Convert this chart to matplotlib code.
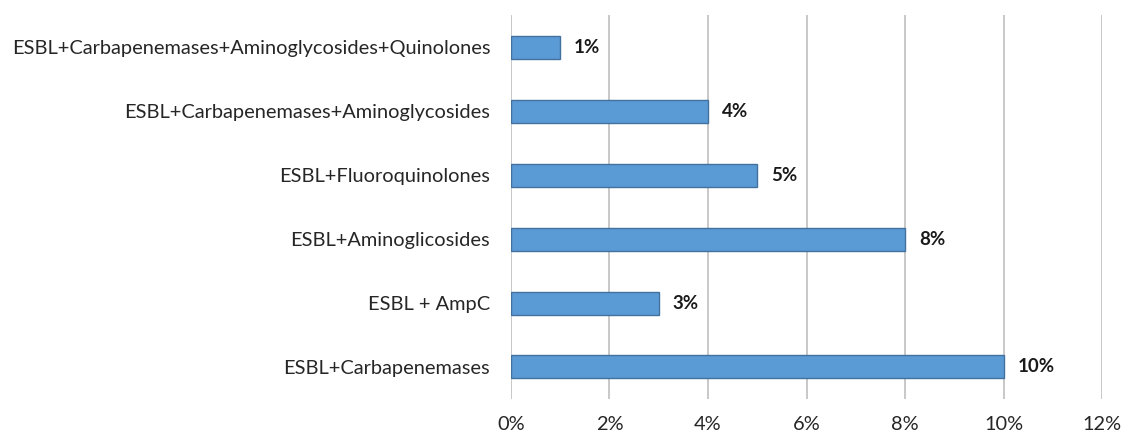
import matplotlib.pyplot as plt
from matplotlib.ticker import FuncFormatter

plt.rcParams['font.family'] = ['Lato', 'DejaVu Sans']

categories = ["ESBL+Carbapenemases", "ESBL + AmpC", "ESBL+Aminoglicosides",
              "ESBL+Fluoroquinolones", "ESBL+Carbapenemases+Aminoglycosides",
              "ESBL+Carbapenemases+Aminoglycosides+Quinolones"]
values = [10, 3, 8, 5, 4, 1]
xticks = [0, 2, 4, 6, 8, 10, 12]

fig = plt.figure(figsize=(11.28, 4.36), dpi=100)
ax = fig.add_axes([0.453, 0.085, 0.524, 0.88])

bars = ax.barh(categories, values, height=0.36, color="#5B9BD5",
               edgecolor="#41719C", linewidth=1, zorder=3)
for b, v in zip(bars, values):
    ax.text(b.get_width() + 0.28, b.get_y() + b.get_height() / 2, f"{v}%",
            va="center", ha="left", fontsize=13.5, fontweight="bold", color="#1a1a1a")

ax.set_xlim(0, 12)
ax.set_ylim(-0.5, len(categories) - 0.5)
ax.set_xticks(xticks)
ax.xaxis.set_major_formatter(FuncFormatter(lambda x, p: f"{x:.0f}%"))
ax.grid(axis="x", color="#BFBFBF", linewidth=1.2, zorder=0)
for s in ax.spines.values():
    s.set_visible(False)
ax.tick_params(length=0, labelsize=14.4, colors="#262626")
ax.tick_params(axis="y", pad=15)
ax.tick_params(axis="x", pad=12)

fig.savefig("out.png", dpi=100)
